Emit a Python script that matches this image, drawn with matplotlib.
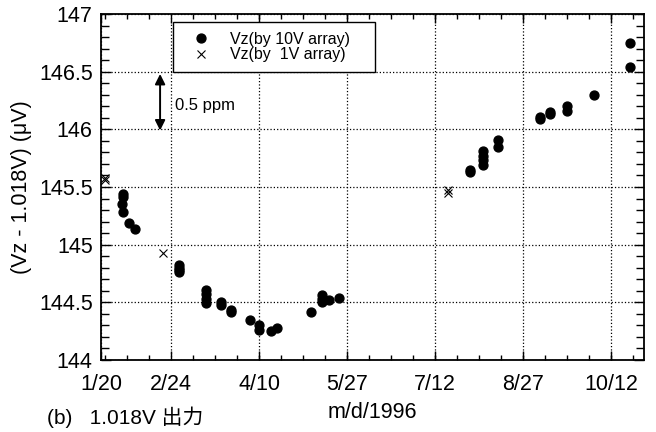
import numpy as np
import matplotlib
matplotlib.use("Agg")
import matplotlib.pyplot as plt
from matplotlib.ticker import FixedLocator, MultipleLocator

plt.rcParams['font.family'] = ['Liberation Sans', 'Noto Sans CJK JP', 'DejaVu Sans']

# ---- data (x = day of year 1996) ----
days_10v = [29.7, 29.7, 29.0, 29.7, 32.7, 35.9,
            59.0, 59.0, 59.0, 59.0,
            73.1, 73.1, 73.1, 73.1,
            81.0, 81.0, 86.4, 86.4, 96.6, 101.2, 101.2, 107.5, 110.5,
            128.4, 134.5, 134.5, 134.5, 138.2, 143.1,
            212.3, 212.3, 218.9, 218.9, 218.9, 218.9, 226.8, 226.8,
            249.1, 249.1, 254.4, 254.4, 263.3, 263.3, 277.4, 296.5, 296.7]
vz_10v = [145.44, 145.41, 145.35, 145.28, 145.19, 145.14,
          144.82, 144.80, 144.78, 144.76,
          144.61, 144.57, 144.53, 144.49,
          144.50, 144.48, 144.43, 144.42, 144.35, 144.30, 144.26, 144.25, 144.28,
          144.42, 144.56, 144.53, 144.50, 144.52, 144.54,
          145.65, 145.63, 145.81, 145.77, 145.73, 145.69, 145.91, 145.85,
          146.11, 146.09, 146.15, 146.13, 146.20, 146.16, 146.30, 146.75, 146.54]

days_1v = [20.1, 20.1, 50.8, 200.9, 200.9]
vz_1v = [145.58, 145.56, 144.93, 145.47, 145.45]

xtick_pos = [18.0, 55.0, 101.3, 147.6, 193.9, 240.2, 286.5]
xtick_labels = ["1/20", "2/24", "4/10", "5/27", "7/12", "8/27", "10/12"]
yticks = [144, 144.5, 145, 145.5, 146, 146.5, 147]

label_10v = "Vz(by 10V array)"
label_1v = "Vz(by  1V array)"

# ---- figure ----
fig = plt.figure(figsize=(6.56, 4.32), dpi=100)
ax = fig.add_axes([0.154, 0.1667, 0.8277, 0.8009])

ax.plot(days_10v, vz_10v, linestyle='none', marker='o', ms=6.4,
        color='black', label=label_10v, zorder=3)
ax.plot(days_1v, vz_1v, linestyle='none', marker='x', ms=5.5, mew=0.8,
        color='black', label=label_1v, zorder=3)

ax.set_xlim(18.0, 303.9)
ax.set_ylim(144, 147)

ax.xaxis.set_major_locator(FixedLocator(xtick_pos))
ax.set_xticklabels(xtick_labels)
ax.xaxis.set_minor_locator(FixedLocator(np.arange(55.0 - 3 * 11.574, 304, 11.574)))
ax.set_yticks(yticks)
ax.set_yticklabels([f"{v:g}" for v in yticks])
ax.yaxis.set_minor_locator(MultipleLocator(0.1))

ax.tick_params(axis='both', which='both', direction='in', top=True, right=True,
               width=1.0, colors='black', labelsize=15.5)
ax.tick_params(axis='x', which='major', length=6.5, pad=10)
ax.tick_params(axis='x', which='minor', length=3.5)
ax.tick_params(axis='y', which='major', length=7, pad=6)
ax.tick_params(axis='y', which='minor', length=5.5)

for sp in ax.spines.values():
    sp.set_linewidth(1.3)

ax.grid(True, which='major', linestyle=':', linewidth=0.9, color='black')
ax.set_axisbelow(True)

ax.set_xlabel("m/d/1996", fontsize=15.5, labelpad=5)
ax.set_ylabel("(Vz - 1.018V) (μV)", fontsize=15.5, labelpad=5)

leg = ax.legend(loc='upper left', bbox_to_anchor=(0.1326, 0.835, 0.372, 0.142),
                mode='expand', fontsize=11.5, frameon=True, fancybox=False,
                edgecolor='black', framealpha=1, borderaxespad=0,
                borderpad=0.6, handlelength=2.3, handletextpad=0.65,
                labelspacing=0.05, markerscale=1.0)
leg.get_frame().set_linewidth(1.0)

ax.annotate('', xy=(49.1, 146.48), xytext=(49.1, 145.99),
            arrowprops=dict(arrowstyle='<|-|>,head_length=0.6,head_width=0.3',
                            color='black', lw=1.4, shrinkA=0, shrinkB=0))
ax.text(57.0, 146.21, "0.5 ppm", fontsize=12, ha='left', va='center')

fig.text(0.071, 0.033, "(b)   1.018V 出力", fontsize=15, ha='left', va='center',
         family=['Liberation Sans', 'Noto Sans CJK JP'])

fig.savefig("out.png", dpi=100)
